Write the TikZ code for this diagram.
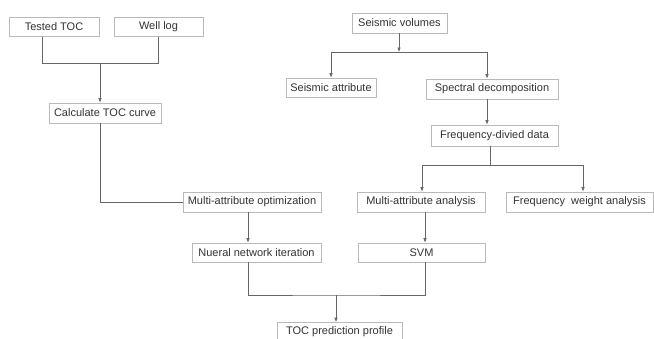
\documentclass[tikz,border=0pt]{standalone}
\usepackage{fontspec}
\setmainfont{Liberation Sans}
\usepackage{tikz}
\usetikzlibrary{arrows.meta,positioning}

\begin{document}
\begin{tikzpicture}[
			x=1pt, y=-1pt,
			>={Latex[length=4.5pt,width=3.5pt]},
			font=\fontsize{11}{13}\selectfont,
			block/.style={
				rectangle,
				draw=gray!55,
				line width=0.6pt,
				text=black!80,
				text centered,
				minimum height=19pt,
				inner sep=0pt,
				fill=white
			},
			link/.style={
				draw=black!60,
				line width=0.6pt
			}
			]
			\useasboundingbox (0,0) rectangle (654,338);
			% We start by placing the blocks
			
			\node [block, minimum width=90pt] (tested) at (54,27) {Tested TOC};
			\node [block, minimum width=89pt] (well) at (158.5,27) {Well log};
			\node [block, minimum width=112pt, minimum height=20pt] (calc) at (105,113) {Calculate TOC curve};
			
			\node [block, minimum width=95pt, minimum height=20pt] (volumes) at (399.5,23) {Seismic volumes};
			\node [block, minimum width=90pt] (attr) at (331,87.5) {Seismic attribute};
			\node [block, minimum width=132pt, minimum height=20pt] (spectral) at (492,89) {Spectral decomposition};
			\node [block, minimum width=127pt, minimum height=21pt] (freq) at (494.5,135.5) {Frequency-divied data};
			
			\node [block, minimum width=138pt, minimum height=20pt] (mopt) at (252,202) {Multi-attribute optimization};
			\node [block, minimum width=128pt, minimum height=20pt] (manal) at (421,202) {Multi-attribute analysis};
			\node [block, minimum width=147pt, minimum height=20pt] (fweight) at (579.5,202) {Frequency~~weight analysis};
			
			\node [block, minimum width=129pt] (nueral) at (256.5,252.5) {Nueral network iteration};
			\node [block, minimum width=127pt] (svm) at (421.5,252.5) {SVM};
			
			\node [block, minimum width=125pt] (toc) at (339.5,332) {TOC prediction profile};
			
			% junctions
			\coordinate (tj) at (42,63);
			\coordinate (wj) at (100,63);
			\coordinate (vj) at (399,52);
			\coordinate (fj) at (490,165);
			\coordinate (mj) at (336,295);
			
			\draw [link] (tested.south -| tj) -- (tj) -| (well.south);
			\draw [link,->] (wj) -- (calc.north -| wj);
			\draw [link] (calc.south -| wj) |- (mopt.west);
			\draw [link,->] ([xshift=-4pt]mopt.south) -- ([xshift=-4pt]mopt.south |- nueral.north);
			
			\draw [link,->] (volumes.south -| vj) -- (vj);
			\draw [link,->] (vj) -| (attr.north);
			\draw [link,->] (vj) -| ([xshift=-5pt]spectral.north);
			\draw [link,->] ([xshift=-5pt]spectral.south) -- ([xshift=-5pt]spectral.south |- freq.north);
			\draw [link] (freq.south -| fj) -- (fj);
			\draw [link,->] (fj) -| ([xshift=1pt]manal.north);
			\draw [link,->] (fj) -| ([xshift=3.5pt]fweight.north);
			\draw [link,->] ([xshift=4pt]manal.south) -- ([xshift=4pt]manal.south |- svm.north);
			
			\draw [link] ([xshift=-8.5pt]nueral.south) |- (mj) -| ([xshift=3.5pt]svm.south);
			\draw [link,->] (mj) -- (toc.north -| mj);
			
			\end{tikzpicture}
\end{document}
